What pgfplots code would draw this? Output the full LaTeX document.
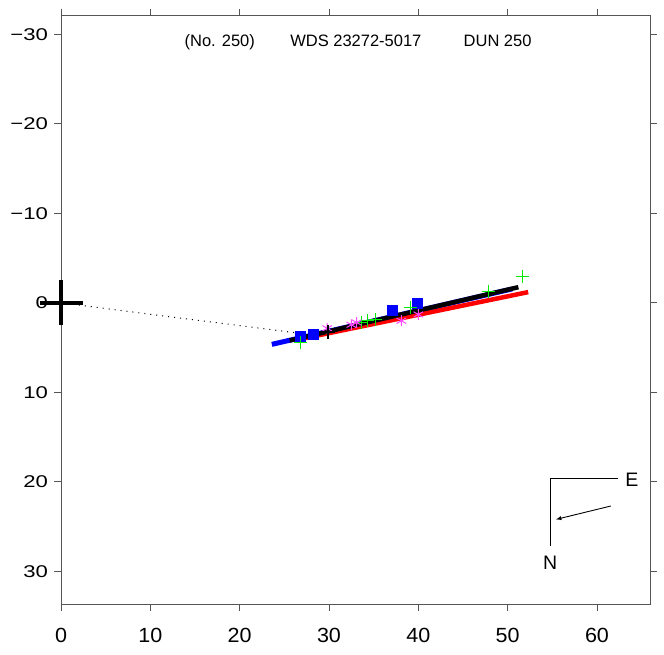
\documentclass[border=0pt]{standalone}
\usepackage{fontspec}
\setmainfont{Liberation Sans}
\usepackage{graphicx}
\usepackage{pgfplots}
\pgfplotsset{compat=1.18}
\definecolor{framec}{RGB}{85,85,85}
\definecolor{mag}{RGB}{255,70,255}
\definecolor{grn}{RGB}{0,235,0}
\newcommand{\yl}[1]{\scalebox{1.3}[1]{#1}}
\newcommand{\xl}[1]{\scalebox{1.05}[1]{#1}}
\begin{document}
\begin{tikzpicture}
\begin{axis}[
  scale only axis, width=589.6pt, height=588.9pt,
  xmin=0, xmax=66, ymin=-32.15, ymax=33.65, y dir=reverse,
  clip=false,
  axis line style={framec, line width=0.9pt},
  tick style={framec, line width=0.9pt},
  tick align=outside, major tick length=6.5pt,
  xtick={0,10,...,60}, ytick={-30,-20,...,30},
  xticklabels={\xl{0},\xl{10},\xl{20},\xl{30},\xl{40},\xl{50},\xl{60}},
  yticklabels={\yl{−30},\yl{−20},\yl{−10},\yl{0},\yl{10},\yl{20},\yl{30}},
  xticklabel pos=lower,
  yticklabel style={font=\fontsize{17}{20}\selectfont, xshift=-3pt},
  xticklabel style={font=\fontsize{20.5}{24}\selectfont, yshift=-14pt},
]
% measures
\addplot[only marks, mark=square*, mark size=5pt, blue, mark options={fill=blue}] coordinates {
 (26.8,3.7) (28.2,3.45) (37.1,0.8) (39.9,0.05)};
\addplot[only marks, mark=+, mark size=6.5pt, grn, line width=1pt] coordinates {
 (26.8,4.4) (33.6,2.2) (34.3,2.0) (35.2,1.9) (39.1,0.5) (47.9,-1.3) (51.7,-2.96)};
\addplot[only marks, mark=asterisk, mark size=5.5pt, mag, line width=1pt] coordinates {
 (29.8,2.85) (32.5,2.45) (33.1,2.2) (38.1,2.0) (40.0,1.3)};
\addplot[only marks, mark=+, mark size=7pt, black, line width=2.2pt] coordinates {(29.9,3.3)};
% orbits
\addplot[blue, line width=5pt] coordinates {(23.6,4.64) (50.5,-1.55)};
\addplot[red, line width=4.5pt] coordinates {(27.0,4.0) (52.3,-1.2)};
\addplot[black, line width=4.5pt] coordinates {(25.6,4.2) (51.2,-1.75)};
% line of nodes / periastron
\addplot[black, line width=1pt, dash pattern=on 1pt off 5pt] coordinates {(0,0) (26.3,3.35)};
% primary
\addplot[black, line width=4.5pt] coordinates {(-2.35,0) (2.45,0)};
\addplot[black, line width=4.5pt] coordinates {(0,-2.5) (0,2.5)};
% title
\node[anchor=base west, font=\fontsize{16.5}{20}\selectfont] at (axis cs:13.44,-28.66) {(No. 250)};
\node[anchor=base west, font=\fontsize{16.5}{20}\selectfont] at (axis cs:25.27,-28.66) {WDS 23272-5017};
\node[anchor=base west, font=\fontsize{16.5}{20}\selectfont] at (axis cs:44.68,-28.66) {DUN 250};
% orientation
\draw[black, line width=0.9pt] (axis cs:62.4,19.6) -- (axis cs:54.76,19.6) -- (axis cs:54.76,27.2);
\node[font=\fontsize{19.5}{22}\selectfont] at (axis cs:63.9,19.8) {E};
\node[font=\fontsize{19.5}{22}\selectfont] at (axis cs:54.76,29.0) {N};
\draw[black, line width=0.9pt, -latex] (axis cs:61.55,22.7) -- (axis cs:55.4,24.2);
\end{axis}
\path ([shift={(-61pt,-50pt)}]current axis.south west) rectangle ++(664pt,654pt);
\end{tikzpicture}
\end{document}
